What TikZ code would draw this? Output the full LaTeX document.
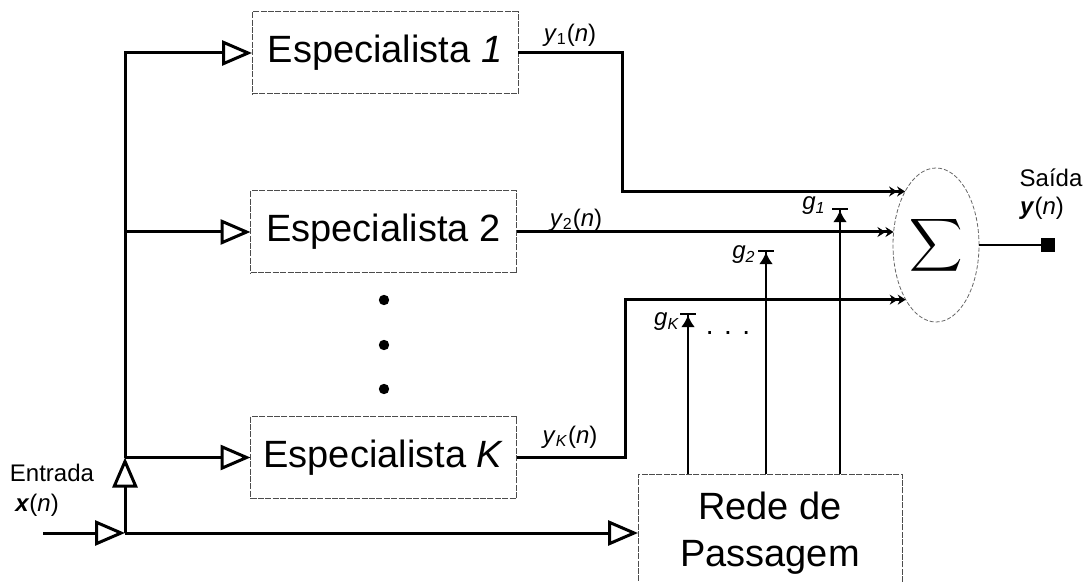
\documentclass[tikz,border=0pt]{standalone}
\usepackage{fontspec}
\usepackage{graphicx}
\setmainfont{Liberation Sans}
\usetikzlibrary{arrows.meta,shapes.geometric}

\tikzset{
  bigfont/.style={font=\fontsize{19}{23.5}\selectfont},
  specbox/.style={draw=black!70, line width=0.5pt, dash pattern=on 3pt off 0.7pt,
    minimum width=133pt, minimum height=41pt, inner sep=0pt, outer sep=0pt, bigfont},
  gatebox/.style={specbox, minimum width=132pt, minimum height=59pt, align=center},
  sumnode/.style={ellipse, draw=black!60, line width=0.4pt, dash pattern=on 2pt off 1pt,
    minimum width=43pt, minimum height=77pt, inner sep=0pt, outer sep=0pt},
  feed/.style={line width=1.5pt, -{Triangle[open, length=15pt, width=12.5pt]}},
  sumin/.style={line width=1.5pt, -{Stealth[length=4pt, width=5pt]Stealth[length=4pt, width=5pt]}},
  gate/.style={line width=1.1pt, -{Latex[length=6pt, width=7pt]Bar[width=8pt]}},
}

\begin{document}
\begin{tikzpicture}[x=0.5pt, y=-0.5pt, font=\fontsize{12}{14}\selectfont]
  \clip (0,0) rectangle (1086,582);
  % specialists
  \node[specbox] (e1) at (385,53) {Especialista \textit{1}};
  \node[specbox] (e2) at (383.5,232) {Especialista 2};
  \node[specbox] (eK) at (383.5,457.5) {Especialista \textit{K}};
  \foreach \y in {300,345,389}
    \fill (384,\y) circle (2.6pt);
  % gating network and combiner
  \node[gatebox] (rede) at (770,533) {Rede de\\Passagem};
  \node[sumnode] (sum) at (936,245) {\scalebox{1.85}{$\displaystyle\sum$}};
  \node[fill, minimum size=7pt, inner sep=0pt] (out) at (1048,245) {};
  % input and its branches
  \coordinate (in) at (43,533);
  \coordinate (j0) at (125,533);
  \coordinate (jK) at (j0 |- eK.west);
  \draw[feed] (in) -- (j0);
  \draw[feed] (j0) -- (jK);
  \draw[feed] (jK) |- (e1.west);
  \draw[feed] (j0 |- e2.west) -- (e2.west);
  \draw[feed] (jK) -- (eK.west);
  \draw[feed] (j0) -- (rede.west);
  \node (entrada) at (52,473) {Entrada};
  \node (xn) at (37,505) {\textbf{\textit{x}}(\textit{n})};
  % specialist outputs
  \draw[sumin] (e1.east) -- ++(104,0) |- (sum.120);
  \draw[sumin] (e2.east) -- (e2.east -| sum.165);
  \draw[sumin] (eK.east) -- ++(109,0) |- (sum.241);
  \node (y1) at (570,35) {\textit{y}\textsubscript{1}(\textit{n})};
  \node (y2) at (576,220) {\textit{y}\textsubscript{2}(\textit{n})};
  \node (yK) at (570,437) {\textit{y}\textsubscript{\textit{K}}(\textit{n})};
  % gates
  \foreach \x/\y/\n in {688/313/gK, 766/250/g2, 840/208/g1}{
    \coordinate (\n) at (\x,\y);
    \draw[gate] (rede.north -| \n) -- (\n);
  }
  \node (lg1) at (814,206) {\textit{g}\textsubscript{\textit{1}}};
  \node (lg2) at (744,255) {\textit{g}\textsubscript{\textit{2}}};
  \node (lgK) at (667,322) {\textit{g}\textsubscript{\textit{K}}};
  \node (dots) at (728,333) {\fontsize{14}{14}\selectfont .\hspace{5.2pt}.\hspace{5.2pt}.};
  % output
  \draw[line width=0.8pt] (sum.east) -- (out.west);
  \node (saida) at (1051,178) {Saída};
  \node (yn) at (1042,208) {\textbf{\textit{y}}(\textit{n})};
\end{tikzpicture}
\end{document}
